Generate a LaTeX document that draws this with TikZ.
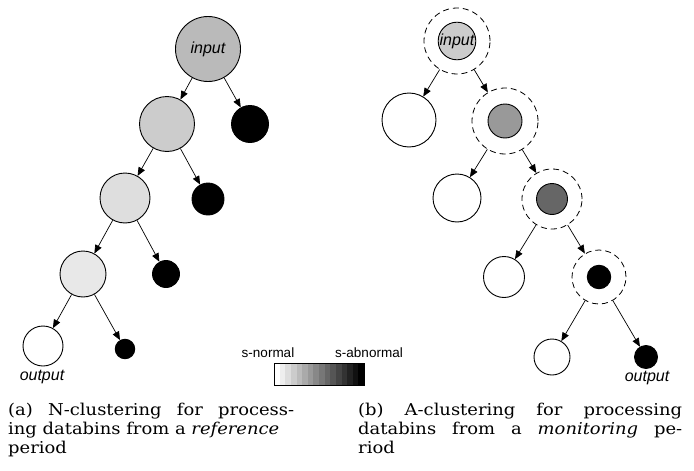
\documentclass[tikz,border=0pt]{standalone}
\usepackage{fontspec}
\setsansfont{Liberation Sans}
\newfontfamily\capfont[FakeStretch=1.1]{DejaVu Serif}
\usetikzlibrary{arrows.meta}
\definecolor{gA}{gray}{0.73}
\definecolor{gB}{gray}{0.80}
\definecolor{gC}{gray}{0.87}
\definecolor{gD}{gray}{0.91}
\definecolor{gE}{gray}{0.60}
\definecolor{gF}{gray}{0.40}
\tikzset{
  nd/.style={circle, draw, line width=0.9pt, inner sep=0pt, font=\sffamily\itshape\fontsize{16}{16}\selectfont},
  dsh/.style={circle, draw, line width=0.8pt, dash pattern=on 6pt off 4pt, inner sep=0pt},
  conn/.style={-{Triangle[length=8.5pt,width=7pt]}, line width=0.7pt},
  lbl/.style={inner sep=0pt, font=\sffamily\itshape\fontsize{16}{16}\selectfont},
  leg/.style={inner sep=0pt, anchor=base, font=\sffamily\fontsize{13.5}{13.5}\selectfont},
  captxt/.style={anchor=base west, inner sep=0pt, font=\capfont\fontsize{16.3}{19}\selectfont},
}
\begin{document}
\begin{tikzpicture}[x=1pt, y=-1pt]
\useasboundingbox (0,0) rectangle (694,471);
% left tree
\node[nd, fill=gA, minimum size=65pt] (a0) at (208,49) {input};
\node[nd, fill=gB, minimum size=55pt] (a1) at (167,124) {};
\node[nd, fill=black, minimum size=37pt] (a1b) at (250,124) {};
\node[nd, fill=gC, minimum size=50pt] (a2) at (125,198) {};
\node[nd, fill=black, minimum size=32pt] (a2b) at (208,199) {};
\node[nd, fill=gD, minimum size=46pt] (a3) at (83,274) {};
\node[nd, fill=black, minimum size=27pt] (a3b) at (166,274) {};
\node[nd, fill=white, minimum size=40pt] (a4) at (43,346) {};
\node[nd, fill=black, minimum size=19.5pt] (a4b) at (125,349) {};
\node[lbl] (aout) at (42,377) {output};
\draw[conn] (a0) -- (a1);
\draw[conn] (a0) -- (a1b);
\draw[conn] (a1) -- (a2);
\draw[conn] (a1) -- (a2b);
\draw[conn] (a2) -- (a3);
\draw[conn] (a2) -- (a3b);
\draw[conn] (a3) -- (a4);
\draw[conn] (a3) -- (a4b);
% right tree
\node[nd, fill=gB, minimum size=36pt] (b0) at (457,41) {input};
\node[dsh, minimum size=66pt] (b0d) at (457,41) {};
\node[nd, fill=white, minimum size=54pt] (b1a) at (409,120) {};
\node[nd, fill=gE, minimum size=34pt] (b1) at (505,121) {};
\node[dsh, minimum size=66pt] (b1d) at (505,121) {};
\node[nd, fill=white, minimum size=48pt] (b2a) at (457,198) {};
\node[nd, fill=gF, minimum size=31pt] (b2) at (552,199) {};
\node[dsh, minimum size=60pt] (b2d) at (552,199) {};
\node[nd, fill=white, minimum size=41pt] (b3a) at (504,277) {};
\node[nd, fill=black, minimum size=23.5pt] (b3) at (599,277) {};
\node[dsh, minimum size=54pt] (b3d) at (599,277) {};
\node[nd, fill=white, minimum size=36pt] (b4a) at (552,357) {};
\node[nd, fill=black, minimum size=23pt] (b4b) at (646,357) {};
\node[lbl] (bout) at (647,378) {output};
\draw[conn] (b0d) -- (b1a);
\draw[conn] (b0d) -- (b1d);
\draw[conn] (b1d) -- (b2a);
\draw[conn] (b1d) -- (b2d);
\draw[conn] (b2d) -- (b3a);
\draw[conn] (b2d) -- (b3d);
\draw[conn] (b3d) -- (b4a);
\draw[conn] (b3d) -- (b4b);
% legend
\node[leg] (ln) at (268,357.5) {s-normal};
\node[leg] (la) at (369,357.5) {s-abnormal};
\foreach \i in {0,...,15} {
  \pgfmathsetmacro\k{100*\i/15}
  \fill[black!\k] (274+\i*90/16,363) rectangle (274+\i*90/16+90/16+0.3,385.5);
}
\draw[line width=0.8pt] (274,363) rectangle (364,385.5);
% captions
\node[captxt] (ca1) at (8,415) {\makebox[286pt][s]{(a) N-clustering for process-}};
\node[captxt] (ca2) at (8,434.3) {ing databins from a \textit{reference}};
\node[captxt] (ca3) at (8,453.6) {period};
\node[captxt] (cb1) at (358,415) {\makebox[324pt][s]{(b) A-clustering for processing}};
\node[captxt] (cb2) at (358,434.3) {\makebox[324pt][s]{databins from a \textit{monitoring} pe-}};
\node[captxt] (cb3) at (358,453.6) {riod};
\end{tikzpicture}
\end{document}
